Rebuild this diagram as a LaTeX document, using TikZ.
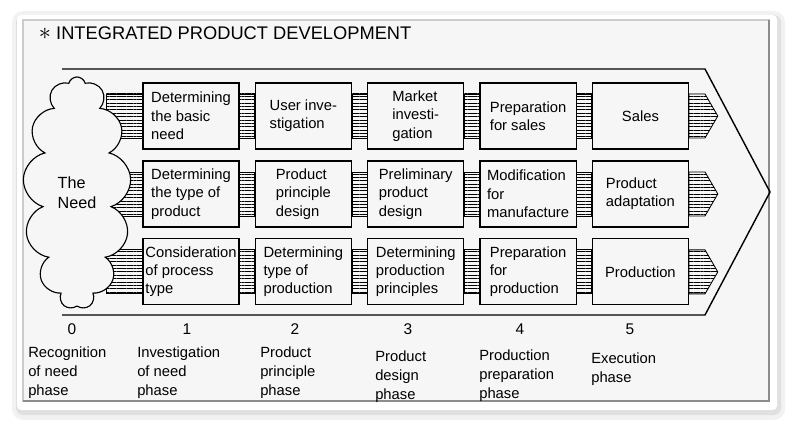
\documentclass[tikz,border=0pt]{standalone}
\usepackage{fontspec}
\setmainfont{Liberation Sans}
\usetikzlibrary{positioning,shapes.symbols,patterns.meta,backgrounds}
\definecolor{cardgrey}{RGB}{246,246,246}

\begin{document}
\begin{tikzpicture}[
    x=0.025cm, y=-0.025cm,
    node distance=0.27cm and 0.38cm,
    every node/.style={font=\fontsize{10.5}{13}\selectfont},
    box/.style={rectangle, draw, line width=0.8pt, fill=cardgrey,
                minimum width=2.4cm, minimum height=1.65cm, align=left, inner sep=1pt},
    need/.style={cloud, cloud puffs=13, cloud ignores aspect, draw, line width=0.8pt,
                 fill=cardgrey, minimum width=2.7cm, minimum height=5.8cm, align=left,
                 font=\fontsize{11.5}{14}\selectfont},
    band/.style={draw, line width=0.6pt,
                 pattern={Lines[angle=0, distance=2.4pt, line width=0.45pt]}},
    outline/.style={line width=1pt},
    num/.style={font=\fontsize{11}{13}\selectfont},
    phase/.style={anchor=north west, align=left, inner sep=0pt,
                  font=\fontsize{10.5}{13.5}\selectfont}
]
\useasboundingbox (0,0) rectangle (793,427);

% Card with shadow
\begin{scope}[on background layer]
\fill[black!5, rounded corners=8pt] (12,11) rectangle (785,420);
\fill[black!12, rounded corners=5pt] (16,15) rectangle (781,415);
\fill[white, rounded corners=3pt] (17,15) rectangle (777,410);
\fill[cardgrey] (23,20) rectangle (770,402);
\draw[black!20, line width=1.2pt] (23,402) -- (23,20) -- (770,20);
\draw[black!45, line width=2pt] (23,401) -- (769,401) -- (769,20);
\end{scope}

% Title
\node[anchor=west, font=\fontsize{13}{15}\selectfont] (title) at (34,33)
    {{\LARGE$\ast$} INTEGRATED PRODUCT DEVELOPMENT};

% Big arrow
\draw[outline] (62,69) -- (705,69) -- (770,192) -- (705,315) -- (62,315);

% The need
\node[need] (need) at (77,193) {The\\Need};

% Row 1
\node[box] (basic) at (191,116) {Determining\\the basic\\need};
\node[box, right=of basic]  (user)      {User inve-\\stigation};
\node[box, right=of user]   (market)    {Market\\investi-\\gation};
\node[box, right=of market] (prepsales) {Preparation\\for sales};
\node[box, right=of prepsales, align=center] (sales) {Sales};

% Row 2
\node[box, below=of basic]  (type)      {Determining\\the type of\\product};
\node[box, right=of type]   (principle) {Product\\principle\\design};
\node[box, right=of principle] (prelim) {Preliminary\\product\\design};
\node[box, right=of prelim] (modif)     {Modification\\for\\manufacture};
\node[box, right=of modif]  (adapt)     {Product\\adaptation};

% Row 3
\node[box, below=of type]   (process)   {Consideration\\of process\\type};
\node[box, right=of process] (prodtype) {Determining\\type of\\production};
\node[box, right=of prodtype] (prodprinc) {Determining\\production\\principles};
\node[box, right=of prodprinc] (prepprod) {Preparation\\for\\production};
\node[box, right=of prepprod, align=center] (production) {Production};

% Striped bands
\begin{scope}[on background layer]
\draw[band] ([yshift=0.55cm]basic.west)   rectangle ([xshift=-0.9cm,yshift=-0.55cm]basic.west);
\draw[band] ([yshift=0.55cm]type.west)    rectangle ([xshift=-0.9cm,yshift=-0.55cm]type.west);
\draw[band] ([yshift=0.55cm]process.west) rectangle ([xshift=-0.9cm,yshift=-0.55cm]process.west);

\draw[band] ([yshift=0.55cm]basic.east)     rectangle ([yshift=-0.55cm]user.west);
\draw[band] ([yshift=0.55cm]user.east)      rectangle ([yshift=-0.55cm]market.west);
\draw[band] ([yshift=0.55cm]market.east)    rectangle ([yshift=-0.55cm]prepsales.west);
\draw[band] ([yshift=0.55cm]prepsales.east) rectangle ([yshift=-0.55cm]sales.west);

\draw[band] ([yshift=0.55cm]type.east)      rectangle ([yshift=-0.55cm]principle.west);
\draw[band] ([yshift=0.55cm]principle.east) rectangle ([yshift=-0.55cm]prelim.west);
\draw[band] ([yshift=0.55cm]prelim.east)    rectangle ([yshift=-0.55cm]modif.west);
\draw[band] ([yshift=0.55cm]modif.east)     rectangle ([yshift=-0.55cm]adapt.west);

\draw[band] ([yshift=0.55cm]process.east)   rectangle ([yshift=-0.55cm]prodtype.west);
\draw[band] ([yshift=0.55cm]prodtype.east)  rectangle ([yshift=-0.55cm]prodprinc.west);
\draw[band] ([yshift=0.55cm]prodprinc.east) rectangle ([yshift=-0.55cm]prepprod.west);
\draw[band] ([yshift=0.55cm]prepprod.east)  rectangle ([yshift=-0.55cm]production.west);
\end{scope}

% Striped arrow heads
\draw[band] ([yshift=0.55cm]sales.east) -- ++(0.4cm,0) -- ++(0.32cm,-0.55cm)
    -- ++(-0.32cm,-0.55cm) -- ++(-0.4cm,0) -- cycle;
\draw[band] ([yshift=0.55cm]adapt.east) -- ++(0.4cm,0) -- ++(0.32cm,-0.55cm)
    -- ++(-0.32cm,-0.55cm) -- ++(-0.4cm,0) -- cycle;
\draw[band] ([yshift=0.55cm]production.east) -- ++(0.4cm,0) -- ++(0.32cm,-0.55cm)
    -- ++(-0.32cm,-0.55cm) -- ++(-0.4cm,0) -- cycle;

% Phase numbers
\node[num] (n0) at (72,329)  {0};
\node[num] (n1) at (187,329) {1};
\node[num] (n2) at (295,329) {2};
\node[num] (n3) at (408,329) {3};
\node[num] (n4) at (520,329) {4};
\node[num] (n5) at (630,329) {5};

% Phase labels
\node[phase] (p0) at (28,347)  {Recognition\\of need\\phase};
\node[phase] (p1) at (137,347) {Investigation\\of need\\phase};
\node[phase] (p2) at (260,347) {Product\\principle\\phase};
\node[phase] (p3) at (375,351) {Product\\design\\phase};
\node[phase] (p4) at (479,350) {Production\\preparation\\phase};
\node[phase] (p5) at (591,353) {Execution\\phase};

\end{tikzpicture}
\end{document}
